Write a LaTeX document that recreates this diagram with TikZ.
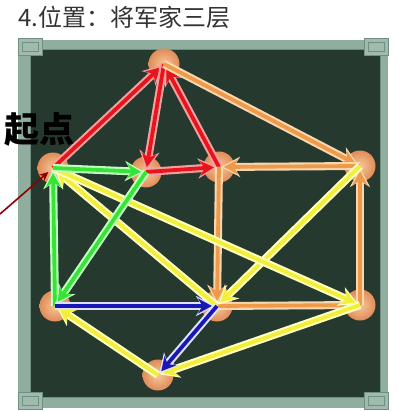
\documentclass[tikz,border=0pt]{standalone}
\usepackage{fontspec}
\newfontfamily\cjk{Noto Sans CJK SC}
\usetikzlibrary{arrows.meta}
\definecolor{framec}{HTML}{8FAE9E}
\definecolor{framed}{HTML}{6F8F80}
\definecolor{boardc}{HTML}{26392F}
\definecolor{ballin}{HTML}{F6C69A}
\definecolor{ballout}{HTML}{E08C58}
\definecolor{myred}{HTML}{E8141C}
\definecolor{myredh}{HTML}{F4A0A0}
\definecolor{myorange}{HTML}{EE9A48}
\definecolor{myorangeh}{HTML}{F8D6B0}
\definecolor{myyellow}{HTML}{F2EE3A}
\definecolor{myyellowh}{HTML}{FFFFC0}
\definecolor{mygreen}{HTML}{36E436}
\definecolor{mygreenh}{HTML}{C0FFC0}
\definecolor{myblue}{HTML}{1818B4}
\definecolor{mybluell}{HTML}{E0E0FF}
\tikzset{
  ball/.style={circle, minimum size=31pt, inner sep=0pt, shading=radial, inner color=ballin, outer color=ballout},
  halo/.style={line width=8pt, shorten >=2pt, -{Stealth[length=19pt,width=20pt]}},
  core/.style={line width=3.8pt, shorten >=5pt, -{Stealth[length=14pt,width=15pt]}},
  starttext/.style={font=\cjk\bfseries\fontsize{35pt}{37pt}\selectfont, inner sep=0pt},
}
\newcommand\edge[4]{%
  \draw[halo, #2] (#3.center) -- (#4.center);
  \draw[core, #1] (#3.center) -- (#4.center);}
\begin{document}
\begin{tikzpicture}[x=1pt,y=-1pt]
\useasboundingbox (0,0) rectangle (413,412);
\fill[white] (0,0) rectangle (413,412);
% frame and board
\fill[framec] (18,40) rectangle (388,408);
\fill[boardc] (30,50) rectangle (380,397);
\draw[framed, line width=1pt] (30,50) rectangle (380,397);
\foreach \cx/\cy in {18/38, 364/38, 18/392, 364/392}{
  \fill[framec!85!white] (\cx,\cy) rectangle ++(24,17);
  \draw[framed, line width=0.8pt] (\cx,\cy) rectangle ++(24,17);
  \draw[framed, line width=0.6pt] (\cx+4,\cy+4) rectangle ++(16,9);
}
% title
\node[anchor=west, text=black!80, font=\cjk\fontsize{24pt}{26pt}\selectfont, inner sep=0pt] (title) at (18,17) {4.位置：将军家三层};
% nodes
\node[ball] (T) at (164,64) {};
\node[ball] (A) at (53,168) {};
\node[ball] (B) at (146,172) {};
\node[ball] (C) at (219,167) {};
\node[ball] (D) at (360,166) {};
\node[ball] (E) at (55,306) {};
\node[ball] (F) at (217,306) {};
\node[ball] (G) at (360,305) {};
\node[ball] (H) at (158,375) {};
% red
\edge{myred}{myredh}{A}{T}
\edge{myred}{myredh}{T}{B}
\edge{myred}{myredh}{B}{C}
\edge{myred}{myredh}{C}{T}
% orange
\edge{myorange}{myorangeh}{T}{D}
\edge{myorange}{myorangeh}{D}{C}
\edge{myorange}{myorangeh}{C}{F}
\edge{myorange}{myorangeh}{F}{G}
\edge{myorange}{myorangeh}{G}{D}
% yellow
\edge{myyellow}{myyellowh}{D}{F}
\edge{myyellow}{myyellowh}{F}{A}
\edge{myyellow}{myyellowh}{A}{G}
\edge{myyellow}{myyellowh}{G}{H}
\edge{myyellow}{myyellowh}{H}{E}
% green
\edge{mygreen}{mygreenh}{E}{A}
\edge{mygreen}{mygreenh}{A}{B}
\edge{mygreen}{mygreenh}{B}{E}
% blue
\edge{myblue}{mybluell}{E}{F}
\edge{myblue}{mybluell}{F}{H}
% start label
\node[starttext, text=black] (start) at (40,129) {起点};
\coordinate (s0) at (0,214);
\draw[line width=1.6pt, draw=red!55!black, -{Stealth[length=9pt,width=8pt]}, shorten >=6pt] (s0) -- (A.center);
\end{tikzpicture}
\end{document}
